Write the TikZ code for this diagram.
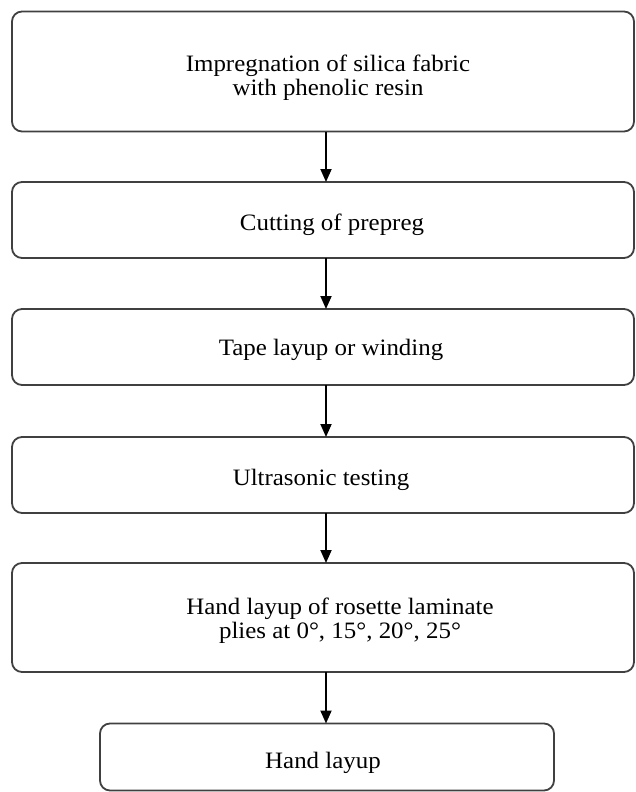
\documentclass[tikz,border=0pt]{standalone}
\usepackage{fontspec}
\setmainfont{Liberation Serif}[FakeStretch=1.06]
\usetikzlibrary{arrows.meta}
\definecolor{boxline}{HTML}{404040}
\begin{document}
\begin{tikzpicture}[x=1pt,y=-1pt,
  stepbox/.style={draw=boxline, line width=1.8pt, rounded corners=10pt, inner sep=0pt, outer sep=0pt},
  steptext/.style={inner sep=0pt, align=center, font=\fontsize{23.5}{24}\selectfont, text=black},
  flow/.style={line width=1.8pt, black, -{Triangle[length=13pt,width=11pt]}}]
\useasboundingbox (0,0) rectangle (636,792);
\node[stepbox, minimum width=622pt, minimum height=120pt] (b1) at (323,71.5) {};
\node[stepbox, minimum width=622pt, minimum height=76pt] (b2) at (323,220) {};
\node[stepbox, minimum width=622pt, minimum height=76pt] (b3) at (323,347) {};
\node[stepbox, minimum width=622pt, minimum height=76pt] (b4) at (323,475) {};
\node[stepbox, minimum width=622pt, minimum height=109pt] (b5) at (323,617.5) {};
\node[stepbox, minimum width=454pt, minimum height=67pt] (b6) at (327,757) {};
\node[steptext] (t1) at ([shift={(5,6)}]b1.center) {Impregnation of silica fabric\\with phenolic resin};
\node[steptext] (t2) at ([shift={(9,5)}]b2.center) {Cutting of prepreg};
\node[steptext] (t3) at ([shift={(8,3)}]b3.center) {Tape layup or winding};
\node[steptext] (t4) at ([shift={(-2,5)}]b4.center) {Ultrasonic testing};
\node[steptext] (t5) at ([shift={(17,3)}]b5.center) {Hand layup of rosette laminate\\plies at 0°, 15°, 20°, 25°};
\node[steptext] (t6) at ([shift={(-4,6)}]b6.center) {Hand layup};
\coordinate (ax) at (326,0);
\draw[flow] (b1.south -| ax) -- (b2.north -| ax);
\draw[flow] (b2.south -| ax) -- (b3.north -| ax);
\draw[flow] (b3.south -| ax) -- (b4.north -| ax);
\draw[flow] (b4.south -| ax) -- (b5.north -| ax);
\draw[flow] (b5.south -| ax) -- (b6.north -| ax);
\end{tikzpicture}
\end{document}
